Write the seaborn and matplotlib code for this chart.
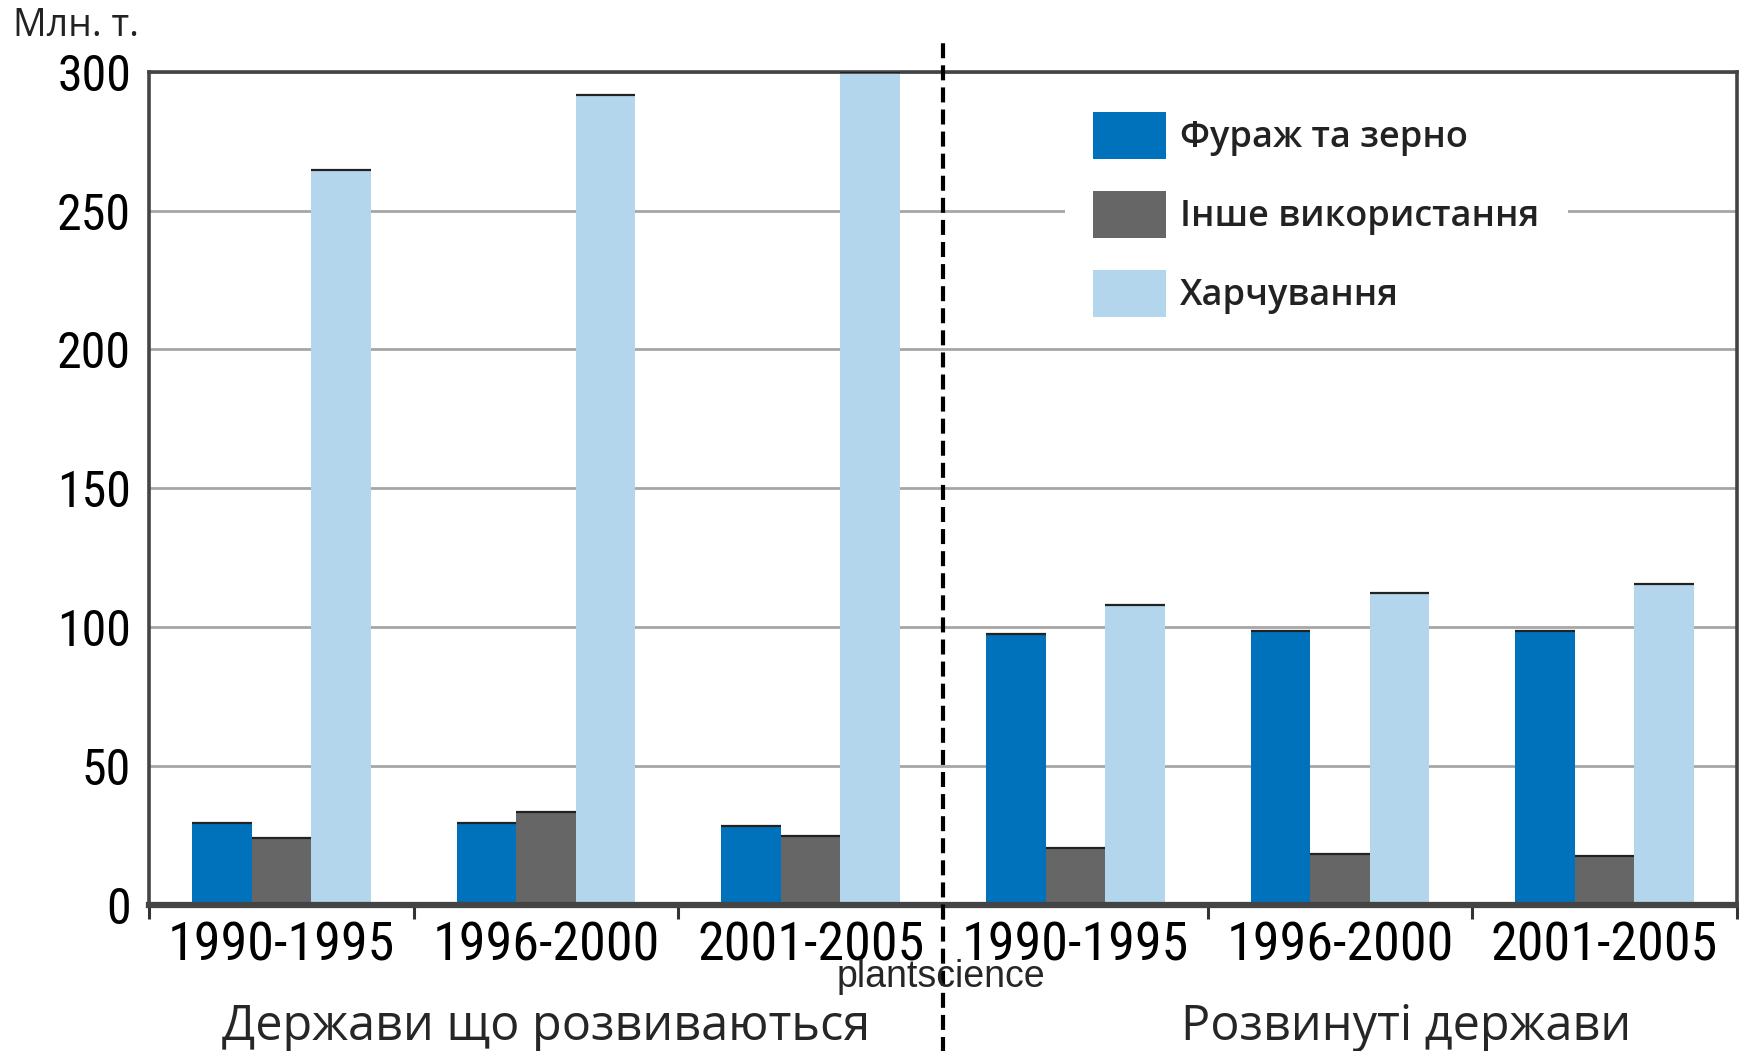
import matplotlib
matplotlib.use("Agg")
import matplotlib.pyplot as plt
import seaborn as sns
import pandas as pd
from matplotlib.ticker import FixedLocator
from matplotlib import font_manager

# ---- data ----
periods = ["1990-1995", "1996-2000", "2001-2005"]
regions = ["Держави що розвиваються", "Розвинуті держави"]
series = ["Фураж та зерно", "Інше використання", "Харчування"]
feed_developing = [29.5, 29.5, 28.5]
other_developing = [24, 33.5, 25]
food_developing = [264.5, 291.5, 300]
feed_developed = [97.5, 98.5, 98.5]
other_developed = [20.5, 18.5, 17.5]
food_developed = [108, 112.5, 115.5]
colors = ["#0072BC", "#666666", "#B3D6EC"]
y_ticks = [0, 50, 100, 150, 200, 250, 300]

rows = []
for r, vals in zip(regions, [(feed_developing, other_developing, food_developing),
                             (feed_developed, other_developed, food_developed)]):
    for i, p in enumerate(periods):
        for s, v in zip(series, vals):
            rows.append({"slot": f"{r}|{p}", "period": p, "region": r, "series": s, "value": v[i]})
df = pd.DataFrame(rows)
slot_order = [f"{r}|{p}" for r in regions for p in periods]

sns.set_theme(style="white")
plt.rcParams['font.family'] = ['Open Sans', 'DejaVu Sans']

names = {f.name for f in font_manager.fontManager.ttflist}
if 'Roboto Condensed' in names:
    num_font, xt_size, yt_size = 'Roboto Condensed', 39, 36
elif 'Liberation Sans Narrow' in names:
    num_font, xt_size, yt_size = 'Liberation Sans Narrow', 40, 36
else:
    num_font, xt_size, yt_size = 'Roboto', 35, 31

fig = plt.figure(figsize=(17.4, 10.51), dpi=100)
ax = fig.add_axes([0.0857, 0.1389, 0.9125, 0.7929])

sns.barplot(data=df, x="slot", y="value", hue="series", order=slot_order,
            hue_order=series, palette=colors, width=0.675, saturation=1,
            edgecolor="none", linewidth=0, ax=ax, zorder=2, legend=True)

# thin dark line on top of each bar
for patch in ax.patches:
    h = patch.get_height()
    if h > 0 and patch.get_width() < 1:
        x0 = patch.get_x()
        ax.plot([x0, x0 + patch.get_width()], [h, h], color="#222222", lw=1.6,
                zorder=3, solid_capstyle="butt")

ax.set_xlim(-0.5, 5.5)
ax.set_ylim(0, 300)
ax.set_yticks(y_ticks)
ax.set_yticklabels([str(t) for t in y_ticks], family=[num_font, 'DejaVu Sans'], fontsize=yt_size)
ax.set_xticks(range(6))
ax.set_xticklabels(periods * 2, family=[num_font, 'DejaVu Sans'], fontsize=xt_size)
ax.xaxis.set_minor_locator(FixedLocator([-0.5, 0.5, 1.5, 2.5, 3.5, 4.5, 5.5]))
ax.tick_params(axis="x", which="major", length=0, pad=11, colors="black")
ax.tick_params(axis="x", which="minor", length=10, width=2.2, color="#333333", direction="out", bottom=True)
ax.tick_params(axis="y", which="major", length=0, pad=13, colors="black")
ax.set_xlabel("")
ax.set_ylabel("")

# grid
ax.yaxis.grid(True, color="#A6A6A6", lw=2.0, zorder=0)
ax.set_axisbelow(True)

for side in ["top", "left", "right"]:
    ax.spines[side].set_color("#444444")
    ax.spines[side].set_linewidth(2.6)
ax.spines["bottom"].set_color("#444444")
ax.spines["bottom"].set_linewidth(4.5)
ax.spines["bottom"].set_zorder(5)

# dashed separator
ax.axvline(2.5, ymin=-0.18, ymax=1.036, color="black", lw=3.0, dashes=(3.6, 1.7),
           clip_on=False, zorder=6)

# legend (white box interrupts the gridline behind it)
handles, labels = ax.get_legend_handles_labels()
leg = ax.legend(handles, labels, loc="upper left", bbox_to_anchor=(0.5652, 1.0083),
                frameon=True, handlelength=2.0, handleheight=1.62,
                labelspacing=0.89, handletextpad=0.4, borderpad=0.8,
                prop={'family': ['Open Sans', 'DejaVu Sans'], 'weight': 'semibold', 'size': 26})
frame = leg.get_frame()
frame.set_facecolor("white")
frame.set_edgecolor("white")
frame.set_linewidth(0)
frame.set_alpha(1)
frame.set_boxstyle("square", pad=0)
for t in leg.get_texts():
    t.set_color("#222222")

# region labels
ax.text(1.0, -0.162, regions[0], transform=ax.get_xaxis_transform(), ha="center", va="baseline",
        fontsize=35, family=['Open Sans', 'DejaVu Sans'])
ax.text(4.25, -0.162, regions[1], transform=ax.get_xaxis_transform(), ha="center", va="baseline",
        fontsize=35, family=['Open Sans', 'DejaVu Sans'])

# unit label and watermark
fig.text(0.0075, 0.975, "Млн. т.", ha="left", va="center", fontsize=27,
         family=['Open Sans', 'DejaVu Sans'], color="#222222")
fig.text(0.541, 0.07, "plantscience", ha="center", va="center", fontsize=27,
         family=['Liberation Sans', 'DejaVu Sans'])

fig.savefig("out.png", dpi=100)
